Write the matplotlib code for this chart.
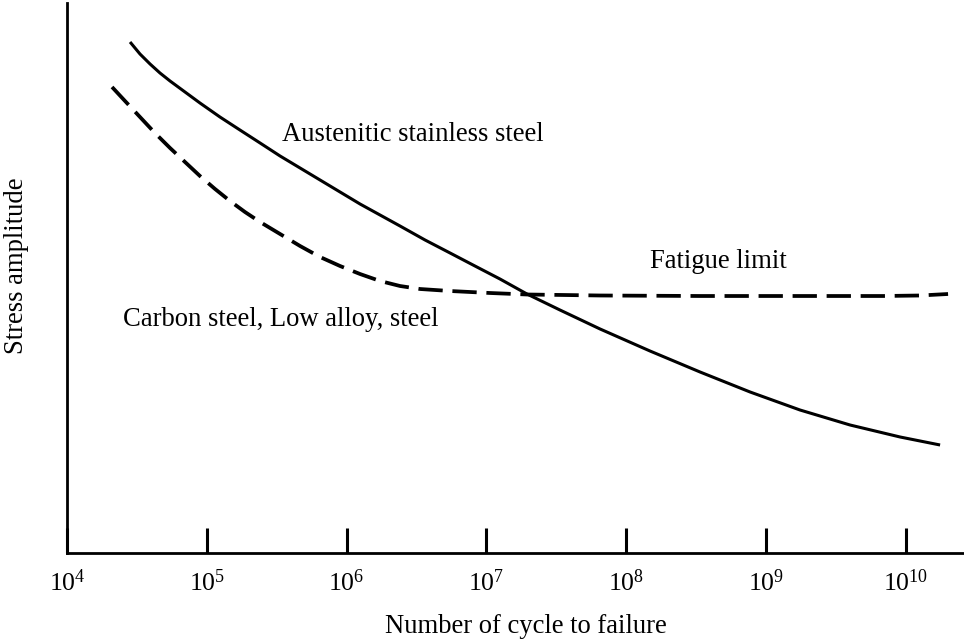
import matplotlib
matplotlib.use("Agg")
import matplotlib.pyplot as plt
import numpy as np

plt.rcParams['font.family'] = ['Liberation Serif', 'DejaVu Serif']
plt.rcParams['mathtext.fontset'] = 'custom'
plt.rcParams['mathtext.rm'] = 'Liberation Serif'
plt.rcParams['mathtext.it'] = 'Liberation Serif'
plt.rcParams['lines.scale_dashes'] = False

# Austenitic stainless steel (solid curve): log10(cycles), stress amplitude (arb. units)
austenitic_log_cycles = [4.451, 4.522, 4.594, 4.665, 4.737, 4.844, 4.951, 5.094,
                         5.237, 5.381, 5.524, 5.667, 5.810, 5.953, 6.096, 6.239,
                         6.382, 6.561, 6.740, 6.918, 7.097, 7.290, 7.526, 7.813,
                         8.170, 8.528, 8.886, 9.243, 9.601, 9.959, 10.245]
austenitic_stress = [511, 499, 489, 480, 472, 461, 450, 436,
                     423, 410, 397, 385, 373, 361, 349, 338,
                     327, 313, 300, 287, 274, 259, 243, 224,
                     202, 181, 161, 143, 128, 116, 108]

# Carbon steel, low alloy steel (dashed curve)
carbon_log_cycles = [4.322, 4.415, 4.522, 4.629, 4.737, 4.844, 4.951, 5.059,
                     5.166, 5.273, 5.381, 5.524, 5.667, 5.810, 5.953, 6.096,
                     6.239, 6.382, 6.525, 6.740, 7.026, 7.290, 7.813, 8.528,
                     9.243, 9.837, 10.102, 10.302]
carbon_stress = [466, 452, 436, 420, 405, 391, 377, 364,
                 352, 341, 331, 319, 307, 296, 287, 279,
                 272, 267, 264, 262, 260, 258.5, 257.5, 257,
                 257, 257, 257.5, 259]

tick_exponents = [4, 5, 6, 7, 8, 9, 10]
tick_labels = [r'$10^{%d}$' % e for e in tick_exponents]

fig = plt.figure(figsize=(9.64, 6.4), dpi=100)
ax = fig.add_axes([67 / 964, 87 / 640, 1 - 67 / 964, (553 - 3) / 640])

ax.plot(10.0 ** np.array(austenitic_log_cycles), austenitic_stress, color='black',
        lw=2.2, solid_capstyle='butt', solid_joinstyle='round')
ax.plot(10.0 ** np.array(carbon_log_cycles), carbon_stress, color='black', lw=2.7,
        dashes=(17.5, 7.0), dash_capstyle='butt', dash_joinstyle='round')

ax.set_xscale('log')
ax.set_xlim(1e4, 10 ** 10.416)
ax.set_ylim(0, 550)

for s in ['top', 'right']:
    ax.spines[s].set_visible(False)
for s in ['left', 'bottom']:
    ax.spines[s].set_linewidth(2.0)

ax.set_xticks([10.0 ** e for e in tick_exponents])
ax.set_xticklabels(tick_labels)
ax.xaxis.set_minor_locator(matplotlib.ticker.NullLocator())
ax.tick_params(axis='x', which='major', direction='in', length=18, width=2.2,
               labelsize=18.5, pad=12)
ax.set_yticks([])

ax.set_xlabel('Number of cycle to failure', fontsize=19.2, va='baseline')
ax.xaxis.set_label_coords((526 - 67) / 897, (553 - 633) / 550)
ax.set_ylabel('Stress amplitude', fontsize=19.2, va='baseline')
ax.yaxis.set_label_coords((23 - 67) / 897, (553 - 266) / 550)

ax.text(10 ** (4 + (282 - 67) / 139.8), 553 - 141, 'Austenitic stainless steel',
        fontsize=19.2, va='baseline', ha='left')
ax.text(10 ** (4 + (650 - 67) / 139.8), 553 - 268, 'Fatigue limit',
        fontsize=19.2, va='baseline', ha='left')
ax.text(10 ** (4 + (123 - 67) / 139.8), 553 - 326, 'Carbon steel, Low alloy, steel',
        fontsize=19.2, va='baseline', ha='left')

fig.savefig('out.png', dpi=100)
